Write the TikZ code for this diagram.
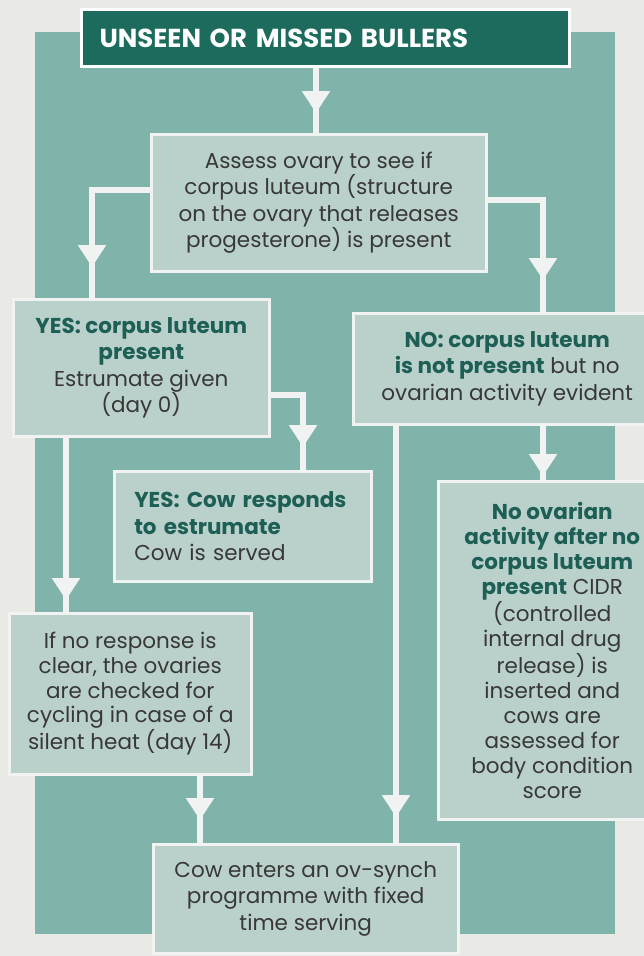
\documentclass[tikz,border=0pt]{standalone}
\usepackage{fontspec}
\setmainfont{Poppins}
\usetikzlibrary{decorations.markings,arrows.meta}
\definecolor{paper}{HTML}{E9E9E6}
\definecolor{tealbg}{HTML}{80B3A9}
\definecolor{boxfill}{HTML}{B9D0CB}
\definecolor{darkteal}{HTML}{1C6B5D}
\definecolor{labteal}{HTML}{1E5F55}
\definecolor{txt}{HTML}{383838}
\definecolor{linec}{HTML}{F0F3F1}
\newcommand\hl[1]{{\bfseries\color{labteal}#1}}
\begin{document}
\begin{tikzpicture}[x=1pt,y=-1pt,
  box/.style={draw=linec, line width=2.5pt, fill=boxfill, anchor=north west, inner sep=0pt,
    align=center, text=txt, font=\fontsize{21.5}{26.3}\selectfont},
  conn/.style={draw=linec, line width=5.5pt,
    decoration={markings, mark=at position #1 with {\arrow{Triangle[width=27pt,length=22pt]}}},
    postaction=decorate},
]
\useasboundingbox (0,0) rectangle (644,956);
\clip (0,0) rectangle (644,956);
\fill[paper] (0,0) rectangle (644,956);
\fill[tealbg] (35,32) rectangle (615,934);

% title
\node[anchor=north west, fill=darkteal, draw=white, line width=3pt, minimum width=488pt,
  minimum height=57pt, inner xsep=18pt, inner ysep=0pt, text width=452pt, align=left,
  text=white, font=\fontsize{26}{30}\selectfont\bfseries] (t) at (80,8) {UNSEEN OR MISSED BULLERS};

% boxes
\node[box, minimum width=335pt, minimum height=137pt] (b1) at (150,133)
  {Assess ovary to see if\\corpus luteum (structure\\on the ovary that releases\\progesterone) is present};
\node[box, minimum width=256pt, minimum height=137pt] (b2) at (12,298)
  {\hl{YES: corpus luteum}\\\hl{present}\\Estrumate given\\(day 0)};
\node[box, minimum width=308pt, minimum height=111pt] (b3) at (352,312)
  {\hl{NO: corpus luteum}\\\hl{is not present} but no\\ovarian activity evident};
\node[box, minimum width=257pt, minimum height=110pt, inner xsep=20pt, text width=217pt, align=left] (b4) at (113,470)
  {\hl{YES: Cow responds}\\\hl{to estrumate}\\Cow is served};
\node[box, minimum width=228pt, minimum height=338pt, font=\fontsize{21.5}{25}\selectfont] (b5) at (437,480)
  {\hl{No ovarian}\\\hl{activity after no}\\\hl{corpus luteum}\\\hl{present} CIDR\\(controlled\\internal drug\\release) is\\inserted and\\cows are\\assessed for\\body condition\\score};
\node[box, minimum width=242pt, minimum height=161pt, font=\fontsize{21.5}{24.6}\selectfont] (b7) at (8,612)
  {If no response is\\clear, the ovaries\\are checked for\\cycling in case of a\\silent heat (day 14)};
\node[box, minimum width=305pt, minimum height=109pt] (b6) at (152,843)
  {Cow enters an ov-synch\\programme with fixed\\time serving};

% connectors
\draw[conn=-20pt] (t.south -| 316,0) -- (b1.north -| 316,0);
\draw[conn=-31pt] (b1.west |- 0,190) -| (b2.north -| 92,0);
\draw[conn=-32pt] (b1.east |- 0,200) -| (b3.north -| 543,0);
\draw[conn=-23pt] (b2.east |- 0,395) -| (b4.north -| 303,0);
\draw[conn=-4pt] (b3.south -| 543,0) -- (b5.north -| 543,0);
\draw[conn=-26pt] (b3.south -| 396,0) -- (b6.north -| 396,0);
\draw[conn=-12pt] (b2.south -| 66,0) -- (b7.north -| 66,0);
\draw[conn=-23pt] (b7.south -| 200,0) -- (b6.north -| 200,0);
\end{tikzpicture}
\end{document}
